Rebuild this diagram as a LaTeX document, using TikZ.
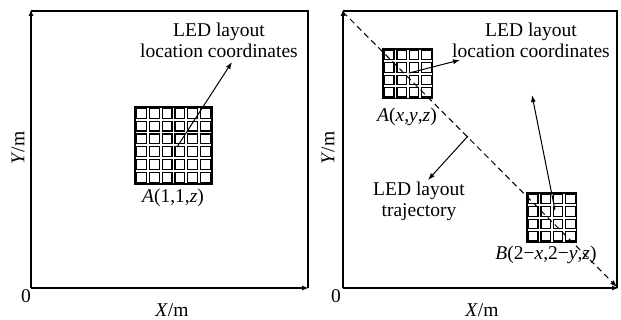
\documentclass[tikz,border=0pt]{standalone}
\usepackage{fontspec}
\setmainfont{Liberation Serif}
\usetikzlibrary{arrows.meta}
\tikzset{
  frame/.style={line width=1.5pt},
  axis/.style={line width=1.5pt,-{Latex[length=7pt,width=5pt]}},
  pointer/.style={line width=1pt,-{Latex[length=7pt,width=5pt]}},
  track/.style={line width=1pt,dash pattern=on 6pt off 4pt,-{Latex[length=7pt,width=5pt]}},
  cellbox/.style={line width=1.2pt},
  lbl/.style={font=\fontsize{19.5}{20}\selectfont,align=center,inner sep=0pt}
}
% LED grid: left x, top y, cells per side, cell size
\newcommand{\ledgrid}[4]{%
  \foreach \i in {1,...,#3}{\foreach \j in {1,...,#3}{
    \draw[cellbox] ({#1+(\i-1)*#4+1.5},{#2+(\j-1)*#4+1.5}) rectangle +(#4-3,#4-3);
  }}%
  \draw[frame] (#1,#2) rectangle +(#3*#4,#3*#4);}

\begin{document}
\begin{tikzpicture}[x=1pt,y=-1pt]
  \useasboundingbox (0,0) rectangle (621,320);

  % left panel
  \coordinate (o1) at (31,288);
  \draw[frame] (31,11) -- (308,11) -- (308,288);
  \draw[axis] (o1) -- (31,9);
  \draw[axis] (o1) -- (309,288);
  \ledgrid{135}{107}{6}{12.8}
  \coordinate (c1) at (177,147);
  \node[lbl] (a1) at (173,198) {\textit{A}(1,1,\textit{z})};
  \node[lbl] (loc1) at (219,40) {LED layout\\[1pt]location coordinates};
  \coordinate (t1) at (232,62);
  \draw[pointer] (c1) -- (t1);
  \node[lbl,rotate=90] (ym1) at (18,148) {\textit{Y}/m};
  \node[lbl] (z1) at (26,296) {0};
  \node[lbl] (xm1) at (172,310) {\textit{X}/m};

  % right panel
  \coordinate (o2) at (343,288);
  \draw[frame] (343,11) -- (617,11) -- (617,288);
  \draw[axis] (o2) -- (343,9);
  \draw[axis] (o2) -- (619,288);
  \coordinate (d0) at (343,12);
  \coordinate (d1) at (617,287);
  \draw[track] (d0) -- (d1);
  \ledgrid{383}{49}{4}{12.4}
  \ledgrid{527}{193}{4}{12.4}
  \node[lbl] (a2) at (407,117) {\textit{A}(\textit{x},\textit{y},\textit{z})};
  \node[lbl] (b2) at (546,255) {\textit{B}(2−\textit{x},2−\textit{y},\textit{z})};
  \node[lbl] (loc2) at (531,40) {LED layout\\[1pt]location coordinates};
  \node[lbl] (trj) at (419,201) {LED layout\\[1pt]trajectory};
  \coordinate (ca) at (409,73);
  \coordinate (ta) at (460,60);
  \coordinate (cb) at (555,210);
  \coordinate (tb) at (532,95);
  \coordinate (m) at (468,136);
  \coordinate (tm) at (428,180);
  \draw[pointer] (ca) -- (ta);
  \draw[pointer] (cb) -- (tb);
  \draw[pointer] (m) -- (tm);
  \node[lbl,rotate=90] (ym2) at (328,148) {\textit{Y}/m};
  \node[lbl] (z2) at (336,296) {0};
  \node[lbl] (xm2) at (482,310) {\textit{X}/m};
\end{tikzpicture}
\end{document}
